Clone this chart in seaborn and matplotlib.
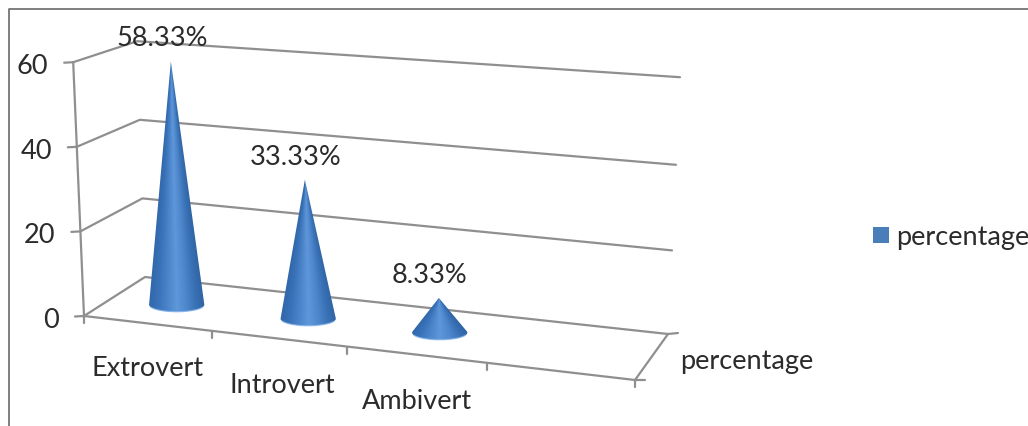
import numpy as np
import pandas as pd
import seaborn as sns
import matplotlib
matplotlib.use("Agg")
import matplotlib.pyplot as plt
from matplotlib.patches import Patch, PathPatch
from matplotlib.path import Path
from matplotlib.transforms import Affine2D

# Chart data
categories = ["Extrovert", "Introvert", "Ambivert"]
percentages = [58.33, 33.33, 8.33]
value_ticks = [0, 20, 40, 60]
series_name = "percentage"

sns.set_theme(style="white")
plt.rcParams["font.family"] = ["Lato", "DejaVu Sans"]

TEXT = "#2b2b2b"
GRID = "#8f8f8f"
BORDER = "#6a6a6a"
BLUE = "#4a7ebb"
FONT = 19.5

fig = plt.figure(figsize=(10.28, 4.27), dpi=100)
ax = fig.add_axes([0, 0, 1, 1])

table = pd.DataFrame({"category": categories, "percentage": percentages})
sns.barplot(data=table, x="category", y="percentage", width=0.42, ax=ax)

# The canvas is addressed in pixels, y pointing down.
W, H = 1028, 427
ax.set_xlim(0, W)
ax.set_ylim(H, 0)
ax.axis("off")

# Oblique projection of (category index, value) onto the canvas.
project = Affine2D.from_values(131.5, 14.0, -0.10, -4.17, 176.7, 305.7)


def wall_anchors(v):
    """Front-left, back-left and back-right corners of a value level."""
    return [
        (84 - 0.18 * v, 317 - 4.23 * v),
        (145 - 0.13 * v, 278 - 3.93 * v),
        (668 + 0.20 * v, 335 - 4.13 * v - 0.0025 * v ** 2),
    ]


seg_rows = []
for seg_id, pts in enumerate(
    [wall_anchors(v) for v in value_ticks]
    + [[wall_anchors(0)[0], wall_anchors(value_ticks[-1])[0]]]
    + [[(84, 317), (635, 381), (668, 335)]]
    + [[(x, 317 + (x - 84) * 64 / 551), (x, 317 + (x - 84) * 64 / 551 + 7)]
       for x in (84, 212, 347, 487, 635)]
    + [[(635, 381), (645, 381)], [(668, 335), (678, 334)]]
    + [[(wall_anchors(v)[0][0] - 9, wall_anchors(v)[0][1] + 0.5), wall_anchors(v)[0]]
       for v in value_ticks]
):
    seg_rows.extend({"x": x, "y": y, "seg": seg_id} for x, y in pts)

sns.lineplot(
    data=pd.DataFrame(seg_rows), x="x", y="y", units="seg", estimator=None,
    sort=False, color=GRID, linewidth=1.6, legend=False, ax=ax, zorder=1,
)
ax.set_xlabel("")
ax.set_ylabel("")

# Shading across a cone: darker flanks, a highlight just right of the axis.
shade = sns.blend_palette(
    ["#3268ab", "#3a73b9", "#4c85ca", "#5f97da", "#4e87cc", "#3a72b6", "#2f63a3"],
    n_colors=256, as_cmap=True,
)

CONE_RY = 7.0
bars = list(ax.patches)
for bar, value in zip(bars, percentages):
    centre = bar.get_x() + bar.get_width() / 2
    half = bar.get_width() / 2
    bar.remove()

    apex_x, apex_y = project.transform((centre, value))
    base_x, base_y = project.transform((centre, 0))
    a = half * 131.5
    height = base_y - apex_y

    # Outline: tangents from the apex to the base ellipse plus its near arc.
    t0 = np.arcsin(min(CONE_RY / height, 1))
    theta = np.linspace(-t0, np.pi + t0, 80)
    arc = np.column_stack([base_x + a * np.cos(theta), base_y + CONE_RY * np.sin(theta)])
    outline = np.vstack([[apex_x, apex_y], arc, [apex_x, apex_y]])
    codes = [Path.MOVETO] + [Path.LINETO] * (len(outline) - 2) + [Path.CLOSEPOLY]
    clip = PathPatch(Path(outline, codes), facecolor="none", edgecolor="none",
                     transform=ax.transData)
    ax.add_patch(clip)

    # Shade along the rulings of the cone rather than plain columns.
    left, right = min(base_x - a, apex_x) - 1, max(base_x + a, apex_x) + 1
    top, bottom = apex_y - 1, base_y + CONE_RY + 1
    xs = np.linspace(left, right, int((right - left) * 3))
    ys = np.linspace(top, bottom, int((bottom - top) * 3))
    gx, gy = np.meshgrid(xs, ys)
    frac = np.clip((gy - apex_y) / height, 0.004, None)
    axis_x = apex_x + (base_x - apex_x) * frac
    u = np.clip((gx - axis_x) / (a * frac), -1, 1)
    im = ax.imshow(shade(0.5 + 0.5 * u), extent=(left, right, bottom, top),
                   aspect="auto", origin="upper", zorder=3, interpolation="bilinear")
    im.set_clip_path(clip)

    # Pale rim along the near edge of the base.
    rim = np.linspace(0.12 * np.pi, 0.88 * np.pi, 40)
    ax.plot(base_x + a * np.cos(rim), base_y + CONE_RY * np.sin(rim),
            color="#7fb0ea", lw=0.9, alpha=0.8, zorder=4)

    ax.text(apex_x - 9, apex_y - 23.5, f"{value:.2f}%", ha="center", va="center",
            color=TEXT, fontsize=FONT, zorder=5)

ax.set_xlim(0, W)
ax.set_ylim(H, 0)

# Value axis labels sit to the left of the front edge.
for v in value_ticks:
    fx, fy = wall_anchors(v)[0]
    ax.text(fx - 25, fy + 3.5, str(v), ha="right", va="center", color=TEXT, fontsize=FONT)

# Category labels step down along the floor.
for i, name in enumerate(categories):
    bx, by = project.transform((i, 0))
    ax.text(bx - 29 + 3 * i, by + 63 + 2.5 * i, name, ha="center", va="center",
            color=TEXT, fontsize=FONT)

ax.text(680, 362, series_name, ha="left", va="center", color=TEXT, fontsize=FONT)

# Picture border: only the top and left edges fall inside the canvas.
ax.plot([8.5, 8.5, W], [H, 10, 10], color=BORDER, lw=1.2, zorder=6, clip_on=False)

leg = ax.legend(
    handles=[Patch(facecolor=BLUE, edgecolor="none", label=series_name)],
    loc="center left", bbox_to_anchor=(873, 238), bbox_transform=ax.transData,
    frameon=False, fontsize=FONT, borderpad=0, borderaxespad=0,
    handlelength=0.59, handleheight=0.55, handletextpad=0.26,
)
for t in leg.get_texts():
    t.set_color(TEXT)

fig.savefig("out.png", dpi=100, facecolor="white")
